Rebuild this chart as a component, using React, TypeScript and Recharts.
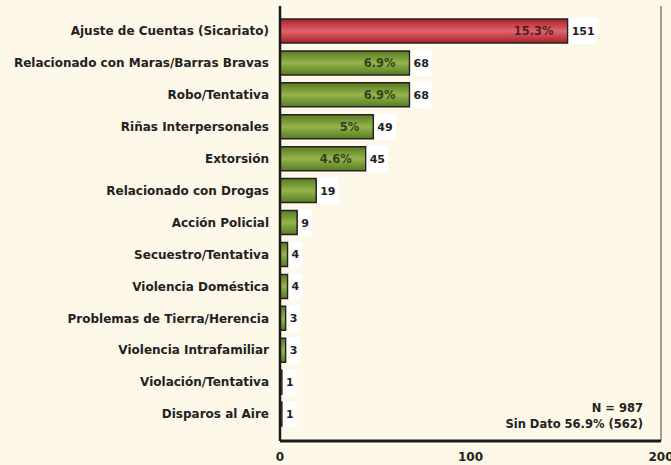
import { BarChart, Bar, XAxis, YAxis, Cell, LabelList, ReferenceLine } from 'recharts'

document.body.style.margin = '0'

const categories = [
  'Ajuste de Cuentas (Sicariato)',
  'Relacionado con Maras/Barras Bravas',
  'Robo/Tentativa',
  'Riñas Interpersonales',
  'Extorsión',
  'Relacionado con Drogas',
  'Acción Policial',
  'Secuestro/Tentativa',
  'Violencia Doméstica',
  'Problemas de Tierra/Herencia',
  'Violencia Intrafamiliar',
  'Violación/Tentativa',
  'Disparos al Aire',
]
const counts = [151, 68, 68, 49, 45, 19, 9, 4, 4, 3, 3, 1, 1]
const percents = ['15.3%', '6.9%', '6.9%', '5%', '4.6%', '', '', '', '', '', '', '', '']
const xTicks = [0, 100, 200]

const data = categories.map((name, i) => ({ name, value: counts[i], pct: percents[i] }))

const FONT = '"DejaVu Sans", Verdana, sans-serif'

function ValueLabel(props: any) {
  const { x, y, width, height, value } = props
  const w = String(value).length * 7.6 + 6
  const bx = x + width + 1
  return (
    <g>
      <rect x={bx} y={y - 1} width={w} height={height + 2} fill="#ffffff" />
      <text x={bx + 3} y={y + height / 2 + 4} fontSize={11} fontWeight="bold" fontFamily={FONT} fill="#222">
        {value}
      </text>
    </g>
  )
}

function PctLabel(props: any) {
  const { x, y, width, height, value } = props
  if (!value) return null
  return (
    <text x={x + width - 14} y={y + height / 2 + 4} textAnchor="end" fontSize={11.5} fontWeight="bold"
      fontFamily={FONT} fill="rgba(0,0,0,0.65)">
      {value}
    </text>
  )
}

export default function App() {
  return (
    <div style={{ position: 'relative', width: 671, height: 465, background: '#fdf8e8', fontFamily: FONT }}>
      <BarChart width={671} height={465} data={data} layout="vertical"
        margin={{ top: 6, right: 10, left: 0, bottom: 0 }} barSize={24}>
        <defs>
          <linearGradient id="gRed" x1="0" y1="0" x2="0" y2="1">
            <stop offset="0%" stopColor="#a8202a" />
            <stop offset="50%" stopColor="#e0646c" />
            <stop offset="100%" stopColor="#a8202a" />
          </linearGradient>
          <linearGradient id="gGreen" x1="0" y1="0" x2="0" y2="1">
            <stop offset="0%" stopColor="#5a7a22" />
            <stop offset="50%" stopColor="#94b44c" />
            <stop offset="100%" stopColor="#5a7a22" />
          </linearGradient>
        </defs>
        <XAxis type="number" domain={[0, 200]} ticks={xTicks} height={24} tickLine={false} tickMargin={5}
          axisLine={{ stroke: '#1a1a1a', strokeWidth: 3 }}
          tick={{ fontSize: 12, fontWeight: 'bold', fill: '#222', fontFamily: FONT }} />
        <XAxis xAxisId="top" orientation="top" type="number" domain={[0, 200]} height={0}
          tick={false} tickLine={false} axisLine={{ stroke: '#444', strokeWidth: 1 }} />
        <YAxis type="category" dataKey="name" width={280} tickLine={false} tickMargin={5}
          padding={{ top: 9, bottom: 11 }}
          axisLine={{ stroke: '#1a1a1a', strokeWidth: 2.5 }} interval={0}
          tick={{ fontSize: 12, fontWeight: 'bold', fill: '#222', fontFamily: FONT }} />
        <ReferenceLine x={200} stroke="#444" strokeWidth={1} />
        <Bar dataKey="value" isAnimationActive={false} stroke="#222" strokeWidth={1.5}>
          {data.map((d, i) => (
            <Cell key={d.name} fill={i === 0 ? 'url(#gRed)' : 'url(#gGreen)'} />
          ))}
          <LabelList dataKey="value" content={ValueLabel} />
          <LabelList dataKey="pct" content={PctLabel} />
        </Bar>
      </BarChart>
      <div style={{ position: 'absolute', right: 28, top: 400, textAlign: 'right', fontSize: 11.5,
        fontWeight: 'bold', color: '#222', lineHeight: '16px' }}>
        <div>N = 987</div>
        <div>Sin Dato 56.9% (562)</div>
      </div>
    </div>
  )
}
